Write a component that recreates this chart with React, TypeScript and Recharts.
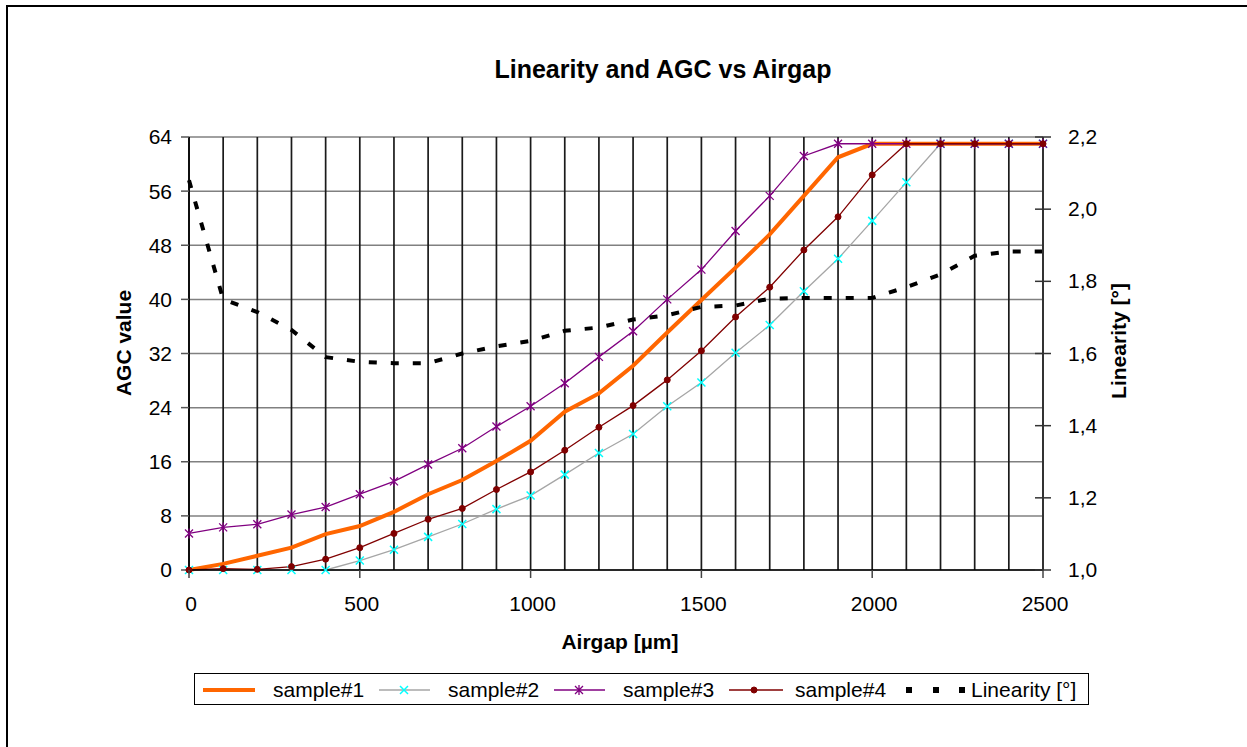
import { LineChart, Line, XAxis, YAxis, CartesianGrid } from 'recharts';

const airgap = [0, 100, 200, 300, 400, 500, 600, 700, 800, 900, 1000, 1100, 1200, 1300, 1400, 1500, 1600, 1700, 1800, 1900, 2000, 2100, 2200, 2300, 2400, 2500];
const sample1 = [0, 0.9, 2.1, 3.3, 5.3, 6.5, 8.6, 11.2, 13.3, 16.1, 19.1, 23.4, 26.1, 30.2, 35.1, 39.9, 44.7, 49.6, 55.3, 61, 63, 63, 63, 63, 63, 63];
const sample2 = [0, 0, 0, 0, 0, 1.4, 3.0, 4.9, 6.8, 9.0, 11.0, 14.1, 17.3, 20.1, 24.2, 27.7, 32.1, 36.2, 41.2, 46.0, 51.6, 57.3, 63, 63, 63, 63];
const sample3 = [5.4, 6.3, 6.75, 8.2, 9.3, 11.2, 13.1, 15.6, 18.0, 21.2, 24.2, 27.6, 31.5, 35.3, 40.0, 44.4, 50.1, 55.3, 61.2, 63, 63, 63, 63, 63, 63, 63];
const sample4 = [0, 0.2, 0.1, 0.5, 1.6, 3.3, 5.4, 7.5, 9.1, 11.9, 14.5, 17.7, 21.1, 24.3, 28.1, 32.4, 37.4, 41.8, 47.3, 52.2, 58.4, 63, 63, 63, 63, 63];
const linearity = [2.08, 1.75, 1.715, 1.665, 1.59, 1.577, 1.573, 1.573, 1.6, 1.62, 1.635, 1.663, 1.672, 1.694, 1.706, 1.729, 1.733, 1.752, 1.754, 1.754, 1.754, 1.784, 1.819, 1.871, 1.883, 1.883];

const agcTicks = [0, 8, 16, 24, 32, 40, 48, 56, 64];
const linTicks = [1.0, 1.2, 1.4, 1.6, 1.8, 2.0, 2.2];
const labelledAirgap = [0, 500, 1000, 1500, 2000, 2500];

const FONT = '"Liberation Sans", Arial, sans-serif';
const ORANGE = '#ff6600';
const GRAY = '#a6a6a6';
const CYAN = '#00ffff';
const PURPLE = '#800080';
const MAROON = '#800000';

const data = airgap.map((x, i) => ({
  x,
  s1: sample1[i],
  s2: sample2[i],
  s3: sample3[i],
  s4: sample4[i],
  lin: linearity[i],
}));

function XTick({ x, y, payload }: any) {
  if (!labelledAirgap.includes(payload.value)) return <g />;
  return (
    <g>
      <line x1={x} x2={x} y1={y} y2={y + 8} stroke="#444" strokeWidth={1.5} />
      <text x={x + 2} y={y + 41} textAnchor="middle" fontSize={21} fontFamily={FONT} fill="#000">
        {payload.value}
      </text>
    </g>
  );
}

function RightTick({ x, y, payload }: any) {
  return (
    <g>
      <line x1={x - 8} x2={x + 8} y1={y} y2={y} stroke="#333" strokeWidth={1.5} />
      <text x={x + 25} y={y + 7} textAnchor="start" fontSize={21} fontFamily={FONT} fill="#000">
        {Number(payload.value).toFixed(1).replace('.', ',')}
      </text>
    </g>
  );
}

const crossDot = (color: string) => (p: any) => {
  const { cx, cy, index } = p;
  return (
    <path key={index} d={`M${cx - 4},${cy - 4}L${cx + 4},${cy + 4}M${cx - 4},${cy + 4}L${cx + 4},${cy - 4}`}
      stroke={color} strokeWidth={1.5} fill="none" />
  );
};

const starDot = (color: string) => (p: any) => {
  const { cx, cy, index } = p;
  return (
    <path key={index}
      d={`M${cx - 4},${cy - 4}L${cx + 4},${cy + 4}M${cx - 4},${cy + 4}L${cx + 4},${cy - 4}M${cx},${cy - 5}L${cx},${cy + 5}`}
      stroke={color} strokeWidth={1.3} fill="none" />
  );
};

const roundDot = (color: string) => (p: any) => {
  const { cx, cy, index } = p;
  return <circle key={index} cx={cx} cy={cy} r={3} fill={color} stroke={color} />;
};

function LegendBox() {
  const t = { fontSize: 21, fontFamily: FONT, fill: '#000' };
  return (
    <div style={{ position: 'absolute', left: 194, top: 673, width: 893, height: 30, border: '1.5px solid #000', background: '#fff' }}>
      <svg width={893} height={30} style={{ display: 'block' }}>
        <line x1={8} x2={60} y1={16} y2={16} stroke={ORANGE} strokeWidth={4} />
        <text x={78} y={23} {...t}>sample#1</text>
        <line x1={184} x2={235} y1={16} y2={16} stroke={GRAY} strokeWidth={1.3} />
        {crossDot(CYAN)({ cx: 209, cy: 16, index: 0 })}
        <text x={253} y={23} {...t}>sample#2</text>
        <line x1={359} x2={410} y1={16} y2={16} stroke={PURPLE} strokeWidth={1.3} />
        {starDot(PURPLE)({ cx: 384, cy: 16, index: 0 })}
        <text x={428} y={23} {...t}>sample#3</text>
        <line x1={534} x2={588} y1={16} y2={16} stroke={MAROON} strokeWidth={1.3} />
        {roundDot(MAROON)({ cx: 559, cy: 16, index: 0 })}
        <text x={600} y={23} {...t}>sample#4</text>
        <rect x={711} y={13} width={6} height={6} fill="#000" />
        <rect x={738} y={13} width={6} height={6} fill="#000" />
        <rect x={764} y={13} width={6} height={6} fill="#000" />
        <text x={776} y={23} {...t}>Linearity [°]</text>
      </svg>
    </div>
  );
}

export default function App() {
  return (
    <div style={{ position: 'absolute', left: 0, top: 0, width: 1247, height: 747, overflow: 'hidden', background: '#fff', fontFamily: FONT }}>
      <div style={{ position: 'absolute', left: 6, top: 5, width: 1400, height: 900, border: '2.5px solid #000' }} />
      <div style={{ position: 'absolute', left: 0, top: 55, width: 1326, textAlign: 'center', fontSize: 25, fontWeight: 'bold', lineHeight: '28px' }}>
        Linearity and AGC vs Airgap
      </div>
      <div style={{ position: 'absolute', left: 0, top: 0 }}>
        <LineChart width={1247} height={747} data={data} margin={{ top: 137, right: 0, left: 0, bottom: 0 }}>
          <CartesianGrid yAxisId="agc" vertical={false} stroke="#808080" strokeWidth={1.5} />
          <CartesianGrid yAxisId="agc" horizontal={false} stroke="#1a1a1a" strokeWidth={1.7} />
          <XAxis dataKey="x" type="number" domain={[0, 2500]} ticks={airgap} interval={0}
            height={177} tickLine={false} tickSize={0} tickMargin={0} tick={<XTick />}
            axisLine={{ stroke: '#000', strokeWidth: 1.5 }} />
          <YAxis yAxisId="agc" domain={[0, 64]} ticks={agcTicks} interval={0} width={189}
            tickSize={8} tickMargin={9} tickLine={{ stroke: '#555', strokeWidth: 1.5 }}
            axisLine={{ stroke: '#000', strokeWidth: 1.5 }}
            tick={{ fontSize: 21, fill: '#000', fontFamily: FONT }} />
          <YAxis yAxisId="lin" orientation="right" domain={[1.0, 2.2]} ticks={linTicks} interval={0} width={204}
            tickLine={false} tickSize={0} tickMargin={0} tick={<RightTick />}
            axisLine={{ stroke: '#333', strokeWidth: 2 }} />
          <Line yAxisId="agc" dataKey="s1" stroke={ORANGE} strokeWidth={4} dot={false} isAnimationActive={false} />
          <Line yAxisId="agc" dataKey="s2" stroke={GRAY} strokeWidth={1.3} dot={crossDot(CYAN)} isAnimationActive={false} />
          <Line yAxisId="agc" dataKey="s3" stroke={PURPLE} strokeWidth={1.3} dot={starDot(PURPLE)} isAnimationActive={false} />
          <Line yAxisId="agc" dataKey="s4" stroke={MAROON} strokeWidth={1.3} dot={roundDot(MAROON)} isAnimationActive={false} />
          <Line yAxisId="lin" dataKey="lin" stroke="#000" strokeWidth={4} strokeDasharray="8 14" dot={false} isAnimationActive={false} />
        </LineChart>
      </div>
      <svg style={{ position: 'absolute', left: 0, top: 0, pointerEvents: 'none' }} width={1247} height={747}>
        <text x={131} y={343} transform="rotate(-90 131 343)" textAnchor="middle" fontSize={21} fontWeight="bold" fontFamily={FONT}>AGC value</text>
        <text x={1126} y={341} transform="rotate(-90 1126 341)" textAnchor="middle" fontSize={21} fontWeight="bold" fontFamily={FONT}>Linearity [°]</text>
        <text x={620} y={649} textAnchor="middle" fontSize={21} fontWeight="bold" fontFamily={FONT}>Airgap [µm]</text>
      </svg>
      <LegendBox />
    </div>
  );
}
